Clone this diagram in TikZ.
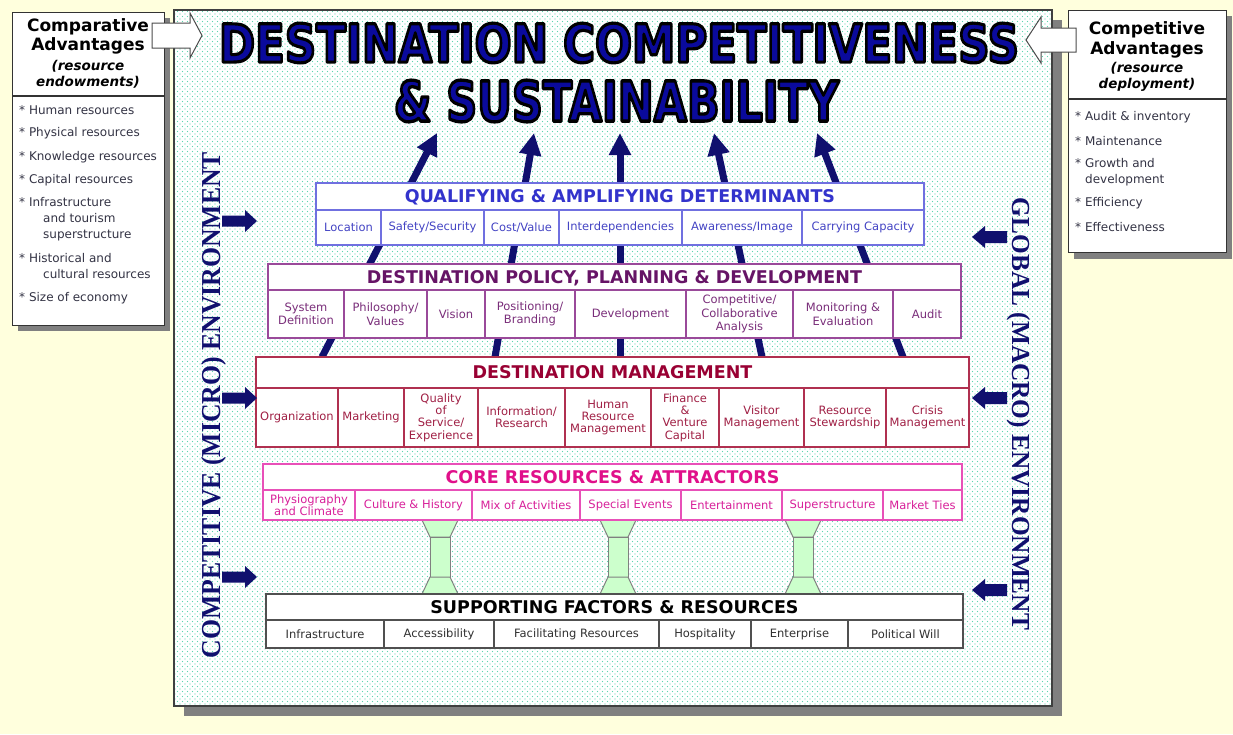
\documentclass[tikz,border=0pt]{standalone}
\usepackage{fontspec}
\usepackage{graphicx}
\setmainfont{DejaVu Sans}
\newfontfamily\vserif{Liberation Serif}
\usetikzlibrary{patterns,arrows.meta}

\pgfdeclarepatternformonly{tealdots}{\pgfqpoint{-1pt}{-1pt}}{\pgfqpoint{4pt}{4pt}}{\pgfqpoint{5pt}{5pt}}{%
  \pgfpathcircle{\pgfqpoint{0pt}{0pt}}{0.7pt}%
  \pgfpathcircle{\pgfqpoint{2.5pt}{2.5pt}}{0.7pt}%
  \pgfusepath{fill}}

\definecolor{bgy}{HTML}{FFFFDD}
\definecolor{shadowc}{HTML}{808080}
\definecolor{dotc}{HTML}{5CD6AE}
\definecolor{navyc}{HTML}{10106E}
\definecolor{titleblue}{HTML}{0A0A9C}
\definecolor{itemc}{HTML}{333344}
\definecolor{pillarc}{HTML}{CCFFCC}
\definecolor{qadB}{HTML}{7070E0}\definecolor{qadT}{HTML}{3333CC}\definecolor{qadC}{HTML}{4444C4}
\definecolor{dppB}{HTML}{9A4A9A}\definecolor{dppT}{HTML}{661466}\definecolor{dppC}{HTML}{7A2E7A}
\definecolor{dmB}{HTML}{B03050}\definecolor{dmT}{HTML}{990033}\definecolor{dmC}{HTML}{A02045}
\definecolor{craB}{HTML}{E850B8}\definecolor{craT}{HTML}{E0108A}\definecolor{craC}{HTML}{D8209A}
\definecolor{sfrB}{HTML}{505050}\definecolor{sfrT}{HTML}{000000}\definecolor{sfrC}{HTML}{303030}

\tikzset{
 cellbase/.style={draw, fill=white, line width=1.2pt, inner sep=0.5pt, align=center},
 headbase/.style={cellbase, font=\bfseries\fontsize{17.5}{20}\selectfont, text height=12.8pt, text depth=0pt},
 cfont/.style={font=\fontsize{11.5}{#1}\selectfont},
 qadh/.style={headbase, draw=qadB, text=qadT},
 qadc/.style={cellbase, cfont=13, draw=qadB, text=qadC},
 dpph/.style={headbase, draw=dppB, text=dppT},
 dppc/.style={cellbase, cfont=13.5, draw=dppB, text=dppC},
 dmh/.style={headbase, draw=dmB, text=dmT},
 dmc/.style={cellbase, cfont=12.3, draw=dmB, text=dmC},
 crah/.style={headbase, draw=craB, text=craT},
 crac/.style={cellbase, cfont=10.5, draw=craB, text=craC},
 sfrh/.style={headbase, draw=sfrB, text=sfrT},
 sfrc/.style={cellbase, font=\fontsize{11.5}{13}\selectfont, draw=sfrB, text=sfrC},
 uparrow/.style={draw=navyc, line width=7pt, -{Triangle[width=21pt,length=22pt]}},
 pillar/.style={fill=pillarc, draw=shadowc, line width=1pt},
 sidebox/.style={draw=black!80, fill=white, line width=1.2pt, inner sep=0pt, anchor=north west},
 boxtitle/.style={font=\bfseries\fontsize{17}{19.5}\selectfont, align=center, inner sep=0pt},
 boxsub/.style={font=\bfseries\itshape\fontsize{13.5}{16}\selectfont, align=center, inner sep=0pt},
 item/.style={font=\fontsize{12}{16}\selectfont, text=itemc, align=left, anchor=west, inner sep=0pt},
 whitearrow/.style={fill=white, draw=black!70, line width=1pt},
 sidearrow/.style={fill=navyc},
 envtext/.style={text=navyc, inner sep=0pt, anchor=base},
 titletext/.style={inner sep=0pt, text=titleblue}
}

\newcommand\cellat[7]{\node[#6, minimum width={(#2-#1)*1pt}, minimum height={(#4-#3)*1pt}] (#5) at ({(#1+#2)/2},{(#3+#4)/2}) {#7};}
\newcommand\outlinetext[1]{\special{pdf:code q 2 Tr 2.4 w 1 j 0 0 0 RG}#1\special{pdf:code Q}}
\newcommand\titleA{\resizebox{800pt}{39pt}{\outlinetext{\bfseries\fontsize{40}{44}\selectfont DESTINATION COMPETITIVENESS}}}
\newcommand\titleB{\resizebox{445pt}{41pt}{\outlinetext{\bfseries\fontsize{40}{44}\selectfont \& SUSTAINABILITY}}}

\begin{document}
\begin{tikzpicture}[x=1pt,y=-1pt]
\useasboundingbox (0,0) rectangle (1233,734);
\fill[bgy] (0,0) rectangle (1233,734);

% main panel
\fill[shadowc] (184,20) rectangle (1062,716);
\fill[white] (174,10) rectangle (1052,706);
\fill[pattern=tealdots, pattern color=dotc] (174,10) rectangle (1052,706);
\draw[line width=1.2pt, draw=black!75] (174,10) rectangle (1052,706);

% up arrows (behind bands)
\coordinate (b1) at (322,357); \coordinate (t1) at (437,133);
\coordinate (b2) at (495,357); \coordinate (t2) at (534,133);
\coordinate (b3) at (620,357); \coordinate (t3) at (620,133);
\coordinate (b4) at (762,357); \coordinate (t4) at (714,133);
\coordinate (b5) at (903,357); \coordinate (t5) at (817,133);
\foreach \i in {1,...,5} \draw[uparrow] (b\i) -- (t\i);

% pillars
\foreach \c in {440,618,803} {
  \filldraw[pillar] ({\c-18},520) -- ({\c+18},520) -- ({\c+10},537) -- ({\c-10},537) -- cycle;
  \filldraw[pillar] ({\c-10},537) rectangle ({\c+10},577);
  \filldraw[pillar] ({\c-10},577) -- ({\c+10},577) -- ({\c+18},594) -- ({\c-18},594) -- cycle;
}

% QAD
\cellat{316}{924}{183}{210}{qad}{qadh}{QUALIFYING \& AMPLIFYING DETERMINANTS}
\cellat{316}{381}{210}{245}{qad1}{qadc}{Location}
\cellat{381}{484}{210}{245}{qad2}{qadc}{Safety/Security}
\cellat{484}{559}{210}{245}{qad3}{qadc}{Cost/Value}
\cellat{559}{682}{210}{245}{qad4}{qadc}{Interdependencies}
\cellat{682}{802}{210}{245}{qad5}{qadc}{Awareness/Image}
\cellat{802}{924}{210}{245}{qad6}{qadc}{Carrying Capacity}

% DPPD
\cellat{268}{961}{264}{290}{dpp}{dpph}{DESTINATION POLICY, PLANNING \& DEVELOPMENT}
\cellat{268}{344}{290}{338}{dpp1}{dppc}{System\\Definition}
\cellat{344}{427}{290}{338}{dpp2}{dppc}{Philosophy/\\Values}
\cellat{427}{485}{290}{338}{dpp3}{dppc}{Vision}
\cellat{485}{575}{290}{338}{dpp4}{dppc}{Positioning/\\Branding}
\cellat{575}{686}{290}{338}{dpp5}{dppc}{Development}
\cellat{686}{793}{290}{338}{dpp6}{dppc}{Competitive/\\Collaborative\\Analysis}
\cellat{793}{893}{290}{338}{dpp7}{dppc}{Monitoring \&\\Evaluation}
\cellat{893}{961}{290}{338}{dpp8}{dppc}{Audit}

% DM
\cellat{256}{969}{357}{388}{dm}{dmh}{DESTINATION MANAGEMENT}
\cellat{256}{338}{388}{447}{dm1}{dmc}{Organization}
\cellat{338}{404}{388}{447}{dm2}{dmc}{Marketing}
\cellat{404}{478}{388}{447}{dm3}{dmc}{Quality\\of\\Service/\\Experience}
\cellat{478}{565}{388}{447}{dm4}{dmc}{Information/\\Research}
\cellat{565}{651}{388}{447}{dm5}{dmc}{Human\\Resource\\Management}
\cellat{651}{719}{388}{447}{dm6}{dmc}{Finance\\\&\\Venture\\Capital}
\cellat{719}{804}{388}{447}{dm7}{dmc}{Visitor\\Management}
\cellat{804}{886}{388}{447}{dm8}{dmc}{Resource\\Stewardship}
\cellat{886}{969}{388}{447}{dm9}{dmc}{Crisis\\Management}

% CRA
\cellat{263}{962}{464}{490}{cra}{crah}{CORE RESOURCES \& ATTRACTORS}
\cellat{263}{355}{490}{520}{cra1}{crac}{Physiography\\and Climate}
\cellat{355}{472}{490}{520}{cra2}{crac}{Culture \& History}
\cellat{472}{580}{490}{520}{cra3}{crac}{Mix of Activities}
\cellat{580}{681}{490}{520}{cra4}{crac}{Special Events}
\cellat{681}{782}{490}{520}{cra5}{crac}{Entertainment}
\cellat{782}{883}{490}{520}{cra6}{crac}{Superstructure}
\cellat{883}{962}{490}{520}{cra7}{crac}{Market Ties}

% SFR
\cellat{266}{963}{594}{620}{sfr}{sfrh}{SUPPORTING FACTORS \& RESOURCES}
\cellat{266}{384}{620}{648}{sfr1}{sfrc}{Infrastructure}
\cellat{384}{494}{620}{648}{sfr2}{sfrc}{Accessibility}
\cellat{494}{659}{620}{648}{sfr3}{sfrc}{Facilitating Resources}
\cellat{659}{751}{620}{648}{sfr4}{sfrc}{Hospitality}
\cellat{751}{848}{620}{648}{sfr5}{sfrc}{Enterprise}
\cellat{848}{963}{620}{648}{sfr6}{sfrc}{Political Will}

% side arrows
\foreach \y in {221,398,577}
  \fill[sidearrow] (222,{\y-5.5}) -- (245,{\y-5.5}) -- (245,{\y-11}) -- (257,\y) -- (245,{\y+11}) -- (245,{\y+5.5}) -- (222,{\y+5.5}) -- cycle;
\foreach \y in {237,398,590}
  \fill[sidearrow] (1007,{\y-6}) -- (985,{\y-6}) -- (985,{\y-11}) -- (972,\y) -- (985,{\y+11}) -- (985,{\y+6}) -- (1007,{\y+6}) -- cycle;

% environment texts
\node[envtext, rotate=90] (microenv) at (220,405) {\resizebox{506pt}{19pt}{\vserif\bfseries COMPETITIVE (MICRO) ENVIRONMENT}};
\node[envtext, rotate=-90] (macroenv) at (1012,414) {\resizebox{432pt}{18pt}{\vserif\bfseries GLOBAL (MACRO) ENVIRONMENT}};

% title
\node[titletext] (title1) at (619,43) {\titleA};
\node[titletext] (title2) at (616.5,101) {\titleB};

% left box
\fill[shadowc] (18,18) rectangle (170,331);
\node[sidebox, minimum width=152, minimum height=313] (lbox) at (12,12) {};
\draw[line width=1.2pt, black!80] (12,96) -- (164,96);
\node[boxtitle] (ltitle) at (88,36.5) {Comparative\\Advantages};
\node[boxsub] (lsub) at (88,74) {(resource\\endowments)};
\node[item] (li1) at (19,110) {* Human resources};
\node[item] (li2) at (19,133) {* Physical resources};
\node[item] (li3) at (19,157) {* Knowledge resources};
\node[item] (li4) at (19,180) {* Capital resources};
\node[item] (li5) at (19,219) {* Infrastructure\\\hspace*{24pt}and tourism\\\hspace*{24pt}superstructure};
\node[item] (li6) at (19,266) {* Historical and\\\hspace*{24pt}cultural resources};
\node[item] (li7) at (19,298) {* Size of economy};

% right box
\fill[shadowc] (1074,16) rectangle (1232,259);
\node[sidebox, minimum width=158, minimum height=242] (rbox) at (1068,10) {};
\draw[line width=1.2pt, black!80] (1068,99) -- (1226,99);
\node[boxtitle] (rtitle) at (1147,40) {Competitive\\Advantages};
\node[boxsub] (rsub) at (1147,77) {(resource\\deployment)};
\node[item] (ri1) at (1075,117) {* Audit \& inventory};
\node[item] (ri2) at (1075,141) {* Maintenance};
\node[item] (ri3) at (1075,172) {* Growth and\\\hspace*{10pt}development};
\node[item] (ri4) at (1075,203) {* Efficiency};
\node[item] (ri5) at (1075,227) {* Effectiveness};

% white arrows
\filldraw[whitearrow] (152,23) -- (190,23) -- (190,13) -- (202,35.5) -- (190,58) -- (190,48) -- (152,48) -- cycle;
\filldraw[whitearrow] (1076,28) -- (1041,28) -- (1041,17) -- (1026,40) -- (1041,63) -- (1041,52) -- (1076,52) -- cycle;
\end{tikzpicture}
\end{document}
